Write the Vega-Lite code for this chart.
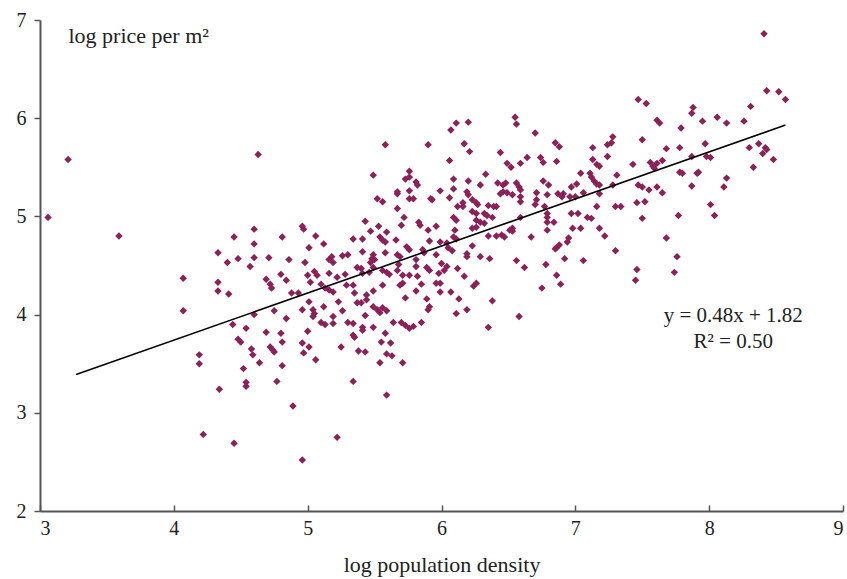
{
  "$schema": "https://vega.github.io/schema/vega-lite/v6.json",
  "width": 803,
  "height": 491,
  "autosize": {"type": "none"},
  "padding": {"left": 40, "top": 20, "right": 4, "bottom": 68},
  "background": "white",
  "config": {
    "view": {"stroke": null},
    "font": "Liberation Serif",
    "axis": {
      "grid": false,
      "domainColor": "#555555",
      "domainWidth": 2,
      "tickColor": "#555555",
      "tickWidth": 1.5,
      "labelFont": "Liberation Serif",
      "labelFontSize": 20,
      "labelColor": "#222222",
      "titleFont": "Liberation Serif",
      "titleFontSize": 22,
      "titleFontWeight": "normal",
      "titleColor": "#222222"
    }
  },
  "datasets": {
    "points": [
      {"density": 3.06, "price": 4.99}, {"density": 3.21, "price": 5.58}, {"density": 3.59, "price": 4.80},
      {"density": 4.63, "price": 5.63}, {"density": 4.96, "price": 4.90}, {"density": 4.97, "price": 4.87},
      {"density": 4.60, "price": 4.87}, {"density": 4.45, "price": 4.79}, {"density": 4.81, "price": 4.79},
      {"density": 5.06, "price": 4.80}, {"density": 4.60, "price": 4.72}, {"density": 5.01, "price": 4.68},
      {"density": 5.12, "price": 4.72}, {"density": 4.33, "price": 4.63}, {"density": 4.48, "price": 4.57},
      {"density": 4.60, "price": 4.58}, {"density": 4.71, "price": 4.58}, {"density": 4.40, "price": 4.53},
      {"density": 4.57, "price": 4.49}, {"density": 4.86, "price": 4.56}, {"density": 4.98, "price": 4.53},
      {"density": 5.16, "price": 4.56}, {"density": 5.18, "price": 4.59}, {"density": 4.07, "price": 4.37},
      {"density": 4.33, "price": 4.33}, {"density": 4.80, "price": 4.41}, {"density": 4.69, "price": 4.36},
      {"density": 4.72, "price": 4.31}, {"density": 4.73, "price": 4.27}, {"density": 4.84, "price": 4.35},
      {"density": 5.00, "price": 4.40}, {"density": 5.05, "price": 4.44}, {"density": 5.07, "price": 4.40},
      {"density": 5.02, "price": 4.33}, {"density": 5.16, "price": 4.42}, {"density": 5.10, "price": 4.31},
      {"density": 5.13, "price": 4.27}, {"density": 4.33, "price": 4.24}, {"density": 4.41, "price": 4.21},
      {"density": 4.88, "price": 4.22}, {"density": 4.93, "price": 4.22}, {"density": 5.16, "price": 4.25},
      {"density": 5.19, "price": 4.23}, {"density": 5.22, "price": 4.38},
      {"density": 4.07, "price": 4.04}, {"density": 4.44, "price": 3.90}, {"density": 4.60, "price": 4.00},
      {"density": 4.75, "price": 4.04}, {"density": 4.84, "price": 3.96}, {"density": 4.54, "price": 3.86},
      {"density": 4.69, "price": 3.82}, {"density": 4.80, "price": 3.81}, {"density": 4.48, "price": 3.75},
      {"density": 4.50, "price": 3.72}, {"density": 4.81, "price": 3.72}, {"density": 4.96, "price": 4.05},
      {"density": 5.01, "price": 4.13}, {"density": 5.04, "price": 4.05}, {"density": 5.05, "price": 4.01},
      {"density": 5.04, "price": 3.98}, {"density": 5.12, "price": 4.08}, {"density": 5.19, "price": 3.98},
      {"density": 5.10, "price": 3.92}, {"density": 5.13, "price": 3.90}, {"density": 5.19, "price": 3.91},
      {"density": 5.00, "price": 3.83}, {"density": 4.96, "price": 3.71}, {"density": 5.01, "price": 3.67},
      {"density": 4.97, "price": 3.61}, {"density": 5.06, "price": 3.54}, {"density": 4.72, "price": 3.67},
      {"density": 4.74, "price": 3.64}, {"density": 4.75, "price": 3.62}, {"density": 4.58, "price": 3.65},
      {"density": 4.59, "price": 3.59}, {"density": 4.19, "price": 3.59}, {"density": 4.19, "price": 3.50},
      {"density": 4.64, "price": 3.51}, {"density": 4.81, "price": 3.48}, {"density": 4.52, "price": 3.45},
      {"density": 4.54, "price": 3.31}, {"density": 4.54, "price": 3.27}, {"density": 4.77, "price": 3.32},
      {"density": 4.34, "price": 3.24}, {"density": 4.89, "price": 3.07}, {"density": 4.22, "price": 2.78},
      {"density": 4.45, "price": 2.69}, {"density": 4.96, "price": 2.52}, {"density": 5.22, "price": 2.75},
      {"density": 5.34, "price": 3.32}, {"density": 5.59, "price": 3.18}, {"density": 5.25, "price": 3.67},
      {"density": 5.54, "price": 3.51}, {"density": 5.71, "price": 3.51}, {"density": 5.38, "price": 3.63},
      {"density": 5.43, "price": 3.62}, {"density": 5.59, "price": 3.60}, {"density": 5.63, "price": 3.58},
      {"density": 5.55, "price": 3.72}, {"density": 5.62, "price": 3.71}, {"density": 5.58, "price": 3.81},
      {"density": 5.34, "price": 3.79}, {"density": 5.35, "price": 3.77}, {"density": 5.41, "price": 3.87},
      {"density": 5.41, "price": 3.84}, {"density": 5.49, "price": 3.87}, {"density": 5.30, "price": 3.92},
      {"density": 5.34, "price": 3.91}, {"density": 5.26, "price": 4.04}, {"density": 5.23, "price": 4.13},
      {"density": 5.43, "price": 3.99}, {"density": 5.64, "price": 3.92}, {"density": 5.70, "price": 3.92},
      {"density": 5.73, "price": 3.89}, {"density": 5.76, "price": 3.86}, {"density": 5.79, "price": 3.88},
      {"density": 5.85, "price": 3.92}, {"density": 5.49, "price": 4.08}, {"density": 5.52, "price": 4.05},
      {"density": 5.54, "price": 4.02}, {"density": 5.59, "price": 4.04}, {"density": 5.56, "price": 4.07},
      {"density": 5.37, "price": 4.12}, {"density": 5.40, "price": 4.12}, {"density": 5.44, "price": 4.15},
      {"density": 5.35, "price": 4.22}, {"density": 5.44, "price": 4.20}, {"density": 5.49, "price": 4.24},
      {"density": 5.29, "price": 4.30}, {"density": 5.34, "price": 4.30}, {"density": 5.28, "price": 4.41},
      {"density": 5.41, "price": 4.42}, {"density": 5.46, "price": 4.43}, {"density": 5.56, "price": 4.30},
      {"density": 5.61, "price": 4.41}, {"density": 5.69, "price": 4.30}, {"density": 5.71, "price": 4.32},
      {"density": 5.71, "price": 4.40}, {"density": 5.76, "price": 4.40}, {"density": 5.82, "price": 4.39},
      {"density": 5.73, "price": 4.17}, {"density": 5.81, "price": 4.24}, {"density": 5.85, "price": 4.31},
      {"density": 5.89, "price": 4.16}, {"density": 5.91, "price": 4.08}, {"density": 5.90, "price": 4.05},
      {"density": 5.96, "price": 4.32}, {"density": 5.99, "price": 4.32}, {"density": 5.99, "price": 4.23},
      {"density": 6.07, "price": 4.23}, {"density": 5.98, "price": 4.42}, {"density": 6.13, "price": 4.16},
      {"density": 6.11, "price": 4.01}, {"density": 6.19, "price": 4.05}, {"density": 6.17, "price": 4.39},
      {"density": 6.24, "price": 4.29}, {"density": 6.26, "price": 4.32}, {"density": 6.38, "price": 4.14},
      {"density": 6.35, "price": 3.87},
      {"density": 5.58, "price": 5.73}, {"density": 5.90, "price": 5.73}, {"density": 6.07, "price": 5.88},
      {"density": 6.11, "price": 5.95}, {"density": 6.20, "price": 5.96}, {"density": 6.17, "price": 5.74},
      {"density": 6.21, "price": 5.66}, {"density": 6.06, "price": 5.57}, {"density": 6.44, "price": 5.65},
      {"density": 6.49, "price": 5.54}, {"density": 5.49, "price": 5.42}, {"density": 5.76, "price": 5.46},
      {"density": 5.73, "price": 5.38}, {"density": 5.76, "price": 5.40}, {"density": 5.81, "price": 5.35},
      {"density": 5.82, "price": 5.32}, {"density": 6.09, "price": 5.38}, {"density": 6.20, "price": 5.36},
      {"density": 6.33, "price": 5.43}, {"density": 6.29, "price": 5.32}, {"density": 6.42, "price": 5.34},
      {"density": 6.46, "price": 5.32}, {"density": 6.48, "price": 5.34}, {"density": 5.67, "price": 5.25},
      {"density": 5.67, "price": 5.23}, {"density": 5.76, "price": 5.26}, {"density": 5.99, "price": 5.26},
      {"density": 6.09, "price": 5.28}, {"density": 6.19, "price": 5.25}, {"density": 6.20, "price": 5.22},
      {"density": 6.46, "price": 5.25}, {"density": 6.49, "price": 5.24}, {"density": 5.52, "price": 5.18},
      {"density": 5.56, "price": 5.15}, {"density": 5.76, "price": 5.18}, {"density": 5.79, "price": 5.18},
      {"density": 5.92, "price": 5.18}, {"density": 5.93, "price": 5.17}, {"density": 6.06, "price": 5.19},
      {"density": 6.16, "price": 5.14}, {"density": 6.12, "price": 5.10}, {"density": 6.16, "price": 5.10},
      {"density": 6.23, "price": 5.17}, {"density": 6.26, "price": 5.14}, {"density": 6.27, "price": 5.12},
      {"density": 6.35, "price": 5.11}, {"density": 6.39, "price": 5.10}, {"density": 6.41, "price": 5.10},
      {"density": 5.67, "price": 5.08}, {"density": 6.09, "price": 4.99}, {"density": 6.11, "price": 4.96},
      {"density": 6.23, "price": 5.05}, {"density": 6.26, "price": 5.03}, {"density": 6.32, "price": 5.03},
      {"density": 6.34, "price": 5.01}, {"density": 6.38, "price": 4.99}, {"density": 5.72, "price": 4.99},
      {"density": 5.43, "price": 4.95}, {"density": 5.83, "price": 4.94}, {"density": 5.84, "price": 4.91},
      {"density": 5.70, "price": 4.91}, {"density": 6.26, "price": 4.96}, {"density": 6.29, "price": 4.94},
      {"density": 6.32, "price": 4.93}, {"density": 6.26, "price": 4.89}, {"density": 6.23, "price": 4.88},
      {"density": 5.53, "price": 4.90}, {"density": 5.59, "price": 4.84}, {"density": 5.47, "price": 4.85},
      {"density": 5.90, "price": 4.86}, {"density": 5.96, "price": 4.90}, {"density": 6.10, "price": 4.86},
      {"density": 6.35, "price": 4.80}, {"density": 6.41, "price": 4.80}, {"density": 6.45, "price": 4.81},
      {"density": 5.34, "price": 4.77}, {"density": 5.41, "price": 4.77}, {"density": 5.54, "price": 4.79},
      {"density": 5.56, "price": 4.76}, {"density": 5.58, "price": 4.74}, {"density": 5.66, "price": 4.76},
      {"density": 5.91, "price": 4.75}, {"density": 5.99, "price": 4.74}, {"density": 6.04, "price": 4.73},
      {"density": 6.09, "price": 4.79}, {"density": 6.11, "price": 4.77}, {"density": 6.23, "price": 4.70},
      {"density": 5.41, "price": 4.64}, {"density": 5.49, "price": 4.61}, {"density": 5.48, "price": 4.57},
      {"density": 5.50, "price": 4.56}, {"density": 5.58, "price": 4.63}, {"density": 5.67, "price": 4.61},
      {"density": 5.69, "price": 4.59}, {"density": 5.74, "price": 4.69}, {"density": 5.76, "price": 4.66},
      {"density": 5.81, "price": 4.56}, {"density": 5.86, "price": 4.66}, {"density": 5.87, "price": 4.63},
      {"density": 5.96, "price": 4.61}, {"density": 6.05, "price": 4.68}, {"density": 6.08, "price": 4.65},
      {"density": 6.19, "price": 4.62}, {"density": 6.19, "price": 4.59}, {"density": 6.29, "price": 4.59},
      {"density": 6.36, "price": 4.57}, {"density": 5.26, "price": 4.60}, {"density": 5.30, "price": 4.61},
      {"density": 5.19, "price": 4.53}, {"density": 5.37, "price": 4.48}, {"density": 5.40, "price": 4.47},
      {"density": 5.47, "price": 4.53}, {"density": 5.49, "price": 4.48}, {"density": 5.56, "price": 4.45},
      {"density": 5.59, "price": 4.43}, {"density": 5.68, "price": 4.51}, {"density": 5.67, "price": 4.45},
      {"density": 5.81, "price": 4.49}, {"density": 5.89, "price": 4.48}, {"density": 5.91, "price": 4.45},
      {"density": 6.00, "price": 4.52}, {"density": 6.04, "price": 4.49}, {"density": 6.02, "price": 4.45},
      {"density": 6.12, "price": 4.47},
      {"density": 7.47, "price": 6.19}, {"density": 7.53, "price": 6.15}, {"density": 7.61, "price": 5.98},
      {"density": 7.63, "price": 5.95}, {"density": 6.55, "price": 6.01}, {"density": 6.56, "price": 5.94},
      {"density": 6.70, "price": 5.85}, {"density": 7.50, "price": 5.78}, {"density": 7.28, "price": 5.81},
      {"density": 7.27, "price": 5.75}, {"density": 7.24, "price": 5.73}, {"density": 6.85, "price": 5.75},
      {"density": 6.88, "price": 5.71}, {"density": 7.13, "price": 5.70}, {"density": 7.68, "price": 5.69},
      {"density": 7.13, "price": 5.58}, {"density": 7.16, "price": 5.53}, {"density": 7.18, "price": 5.51},
      {"density": 7.24, "price": 5.61}, {"density": 6.86, "price": 5.56}, {"density": 6.74, "price": 5.60},
      {"density": 6.76, "price": 5.55}, {"density": 6.64, "price": 5.60}, {"density": 6.59, "price": 5.54},
      {"density": 6.52, "price": 5.50}, {"density": 7.43, "price": 5.53}, {"density": 7.56, "price": 5.55},
      {"density": 7.58, "price": 5.51}, {"density": 7.59, "price": 5.49}, {"density": 7.61, "price": 5.54},
      {"density": 7.65, "price": 5.57}, {"density": 7.04, "price": 5.44}, {"density": 7.11, "price": 5.44},
      {"density": 7.12, "price": 5.40}, {"density": 7.14, "price": 5.36}, {"density": 7.16, "price": 5.33},
      {"density": 7.18, "price": 5.32}, {"density": 7.31, "price": 5.42}, {"density": 6.76, "price": 5.36},
      {"density": 6.80, "price": 5.32}, {"density": 7.01, "price": 5.33}, {"density": 6.97, "price": 5.30},
      {"density": 6.56, "price": 5.34}, {"density": 6.58, "price": 5.30}, {"density": 6.59, "price": 5.27},
      {"density": 7.28, "price": 5.32}, {"density": 7.47, "price": 5.32}, {"density": 7.50, "price": 5.30},
      {"density": 7.61, "price": 5.30}, {"density": 7.55, "price": 5.27}, {"density": 7.65, "price": 5.24},
      {"density": 6.44, "price": 5.23}, {"density": 6.53, "price": 5.22}, {"density": 6.59, "price": 5.20},
      {"density": 6.71, "price": 5.24}, {"density": 6.79, "price": 5.22}, {"density": 6.71, "price": 5.17},
      {"density": 6.87, "price": 5.23}, {"density": 6.90, "price": 5.20}, {"density": 6.91, "price": 5.23},
      {"density": 6.96, "price": 5.20}, {"density": 7.00, "price": 5.20}, {"density": 7.06, "price": 5.24},
      {"density": 7.18, "price": 5.23}, {"density": 6.59, "price": 5.15}, {"density": 6.70, "price": 5.12},
      {"density": 6.77, "price": 5.10}, {"density": 7.46, "price": 5.14}, {"density": 7.52, "price": 5.15},
      {"density": 7.16, "price": 5.10}, {"density": 7.30, "price": 5.10}, {"density": 7.34, "price": 5.10},
      {"density": 6.97, "price": 5.03}, {"density": 7.02, "price": 5.03}, {"density": 7.09, "price": 4.99},
      {"density": 7.12, "price": 4.98}, {"density": 6.79, "price": 5.03}, {"density": 6.79, "price": 4.99},
      {"density": 6.59, "price": 4.99}, {"density": 7.50, "price": 4.98},
      {"density": 6.79, "price": 4.94}, {"density": 6.84, "price": 4.94}, {"density": 6.53, "price": 4.88},
      {"density": 6.51, "price": 4.86}, {"density": 6.53, "price": 4.85}, {"density": 6.47, "price": 4.79},
      {"density": 6.67, "price": 4.79}, {"density": 6.79, "price": 4.86}, {"density": 6.98, "price": 4.88},
      {"density": 7.04, "price": 4.88}, {"density": 7.18, "price": 4.88}, {"density": 7.22, "price": 4.80},
      {"density": 7.68, "price": 4.78}, {"density": 6.95, "price": 4.78}, {"density": 6.94, "price": 4.74},
      {"density": 6.88, "price": 4.71}, {"density": 6.86, "price": 4.68}, {"density": 6.85, "price": 4.67},
      {"density": 7.30, "price": 4.65}, {"density": 6.92, "price": 4.57}, {"density": 7.06, "price": 4.55},
      {"density": 6.56, "price": 4.55}, {"density": 6.62, "price": 4.48}, {"density": 6.78, "price": 4.51},
      {"density": 7.46, "price": 4.46}, {"density": 7.45, "price": 4.35}, {"density": 6.86, "price": 4.40},
      {"density": 6.89, "price": 4.31}, {"density": 6.75, "price": 4.27}, {"density": 6.58, "price": 3.98},
      {"density": 7.74, "price": 4.43}, {"density": 7.76, "price": 4.59},
      {"density": 8.41, "price": 6.86}, {"density": 8.43, "price": 6.28}, {"density": 8.52, "price": 6.27},
      {"density": 8.57, "price": 6.19}, {"density": 8.31, "price": 6.12}, {"density": 7.88, "price": 6.11},
      {"density": 7.87, "price": 6.05}, {"density": 7.95, "price": 5.97}, {"density": 8.06, "price": 6.01},
      {"density": 8.13, "price": 5.95}, {"density": 8.26, "price": 5.97}, {"density": 7.79, "price": 5.90},
      {"density": 7.78, "price": 5.70}, {"density": 7.97, "price": 5.74}, {"density": 7.87, "price": 5.61},
      {"density": 7.98, "price": 5.61}, {"density": 8.01, "price": 5.60}, {"density": 8.30, "price": 5.70},
      {"density": 8.37, "price": 5.74}, {"density": 8.42, "price": 5.70}, {"density": 8.40, "price": 5.64},
      {"density": 8.43, "price": 5.68}, {"density": 8.48, "price": 5.58}, {"density": 8.33, "price": 5.50},
      {"density": 7.78, "price": 5.45}, {"density": 7.80, "price": 5.44}, {"density": 7.91, "price": 5.44},
      {"density": 7.92, "price": 5.45}, {"density": 7.87, "price": 5.31}, {"density": 8.13, "price": 5.39},
      {"density": 8.11, "price": 5.30}, {"density": 8.01, "price": 5.12}, {"density": 7.77, "price": 5.01},
      {"density": 8.04, "price": 5.01}
    ],
    "fit": [
      {"density": 3.27, "price": 3.39},
      {"density": 8.57, "price": 5.93}
    ]
  },
  "layer": [
    {
      "data": {"name": "points"},
      "mark": {"type": "point", "shape": "diamond", "filled": true, "size": 55, "color": "#8b2158", "opacity": 1},
      "encoding": {
        "x": {
          "field": "density",
          "type": "quantitative",
          "scale": {"domain": [3, 9], "nice": false, "zero": false},
          "axis": {
            "values": [3, 4, 5, 6, 7, 8, 9],
            "format": "d",
            "title": "log population density",
            "tickSize": -6,
            "labelPadding": 13,
            "titlePadding": 16
          }
        },
        "y": {
          "field": "price",
          "type": "quantitative",
          "scale": {"domain": [2, 7], "nice": false, "zero": false},
          "axis": {
            "values": [2, 3, 4, 5, 6, 7],
            "format": "d",
            "title": "log price per m²",
            "tickSize": 6,
            "labelPadding": 8,
            "titleAngle": 0,
            "titleAlign": "left",
            "titleBaseline": "middle",
            "titleX": 28,
            "titleY": 15
          }
        }
      }
    },
    {
      "data": {"name": "fit"},
      "mark": {"type": "line", "color": "#000000", "strokeWidth": 1.6},
      "encoding": {
        "x": {"field": "density", "type": "quantitative"},
        "y": {"field": "price", "type": "quantitative"}
      }
    },
    {
      "data": {"values": [{}]},
      "mark": {"type": "text", "font": "Liberation Serif", "fontSize": 21, "color": "#222222", "align": "center", "baseline": "middle"},
      "encoding": {
        "x": {"datum": 8.18, "type": "quantitative"},
        "y": {"datum": 3.99, "type": "quantitative"},
        "text": {"value": "y = 0.48x + 1.82"}
      }
    },
    {
      "data": {"values": [{}]},
      "mark": {"type": "text", "font": "Liberation Serif", "fontSize": 21, "color": "#222222", "align": "center", "baseline": "middle"},
      "encoding": {
        "x": {"datum": 8.18, "type": "quantitative"},
        "y": {"datum": 3.72, "type": "quantitative"},
        "text": {"value": "R² = 0.50"}
      }
    }
  ]
}
